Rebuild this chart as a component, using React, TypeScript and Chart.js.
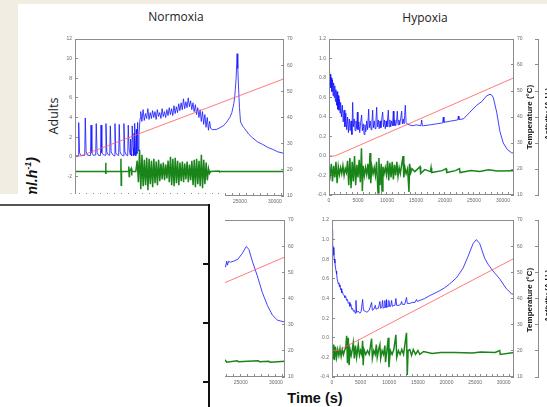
import React, { useEffect, useRef } from 'react';
import { Chart, registerables } from 'chart.js';

Chart.register(...registerables);
Chart.defaults.font.family = 'Liberation Sans';

type Pair = [number, number];

// labelled time ticks (s)
const timeTicks = [0, 5000, 10000, 15000, 20000, 25000, 30000];

// ---------------- Normoxia, adults (top-left) ----------------
const normAdultTemp: Pair[] = [[1400, 25.3], [2200, 25.3], [31300, 54.8]];
const normAdultVO2: Pair[] = [
  [1400, 0.05], [1850, 0.1], [1930, 3.48], [2050, 0.4], [2250, 0.12], [2790, 0.15], [2870, 3.95], [2990, 0.5],
  [3200, 0.15], [3610, 0.12], [3690, 3.22], [3810, 0.4], [4000, 0.15], [4360, 0.18], [4440, 3.38], [4560, 0.45],
  [4750, 0.15], [5040, 0.12], [5120, 3.22], [5240, 0.4], [5450, 0.2], [5750, 0.15], [5830, 3.38], [5950, 0.5],
  [6150, 0.2], [6370, 0.15], [6450, 3.15], [6570, 0.5], [6800, 0.2], [7040, 0.1], [7120, 3.38], [7240, 0.4],
  [7450, 0.2], [7650, 0.12], [7730, 3.3], [7850, 0.5], [8050, 0.2], [8320, 0.1], [8400, 3.38], [8520, 0.6],
  [8700, 0.2], [8940, 0.1], [9020, 3.22], [9140, 0.8], [9300, 0.2], [9350, 1.8], [9420, 0.3], [9510, 0.1],
  [9590, 3.15], [9700, 0.9], [9800, 0.1], [9850, 2.4], [9900, 0.2], [9970, 3.4], [10050, 0.5], [10100, 0.1],
  [10180, 2.8], [10250, 0.3], [10360, 3.5], [10450, 0.6], [10550, 2.2], [10700, 3.9],
  [10800, 4.6], [10970, 3.6], [11140, 4.8], [11310, 3.7], [11480, 4.4], [11650, 3.9], [11820, 4.9], [11990, 3.8],
  [12160, 4.5], [12330, 3.9], [12500, 4.7], [12670, 4.0], [12840, 4.6], [13010, 3.8], [13180, 4.8], [13350, 4.1],
  [13520, 4.5], [13690, 3.9], [13860, 4.9], [14030, 4.1], [14200, 4.6], [14370, 4.0], [14540, 4.8], [14710, 4.2],
  [14880, 5.0], [15050, 4.3], [15220, 4.9], [15390, 4.2], [15560, 5.2], [15730, 4.4], [15900, 5.1], [16070, 4.5],
  [16240, 5.4], [16410, 4.7], [16580, 5.5], [16750, 4.8], [16920, 5.9], [17090, 4.9], [17260, 5.6], [17430, 5.0],
  [17600, 6.0], [17770, 5.1], [17940, 5.7], [18110, 4.8], [18280, 5.5], [18450, 4.6], [18620, 5.3], [18790, 4.3],
  [18960, 5.0], [19130, 4.0], [19300, 4.8], [19470, 3.6], [19640, 4.6], [19810, 3.3], [19980, 4.3], [20150, 3.0],
  [20320, 4.0], [20490, 2.7], [20660, 3.6], [20800, 2.9],
  [21120, 2.75], [21690, 2.8], [22120, 2.95], [22690, 3.2], [23120, 3.55], [23550, 4.0], [23840, 4.5], [24120, 5.4],
  [24260, 6.2], [24450, 8.0], [24590, 10.5], [24690, 9.0], [24790, 7.2], [24930, 5.0], [25080, 3.55], [25410, 3.1],
  [25690, 2.85], [26260, 2.3], [26840, 1.9], [27550, 1.5], [28270, 1.25], [28980, 0.95], [29700, 0.75], [30410, 0.5],
  [31300, 0.35],
];
const normAdultAct: Pair[] = [
  [1400, -1.5], [5750, -1.5], [5790, -0.6], [5830, -1.75], [5870, -1.5], [7930, -1.5], [7970, -0.2], [8010, -2.9],
  [8050, -1.5], [9050, -1.5], [9100, -1.0], [9150, -2.0], [9200, -1.5], [9450, -1.2], [9500, -1.9], [9550, -1.5],
  [10100, -1.5], [10300, -0.4], [10470, -2.6], [10640, 0.7], [10810, -3.3], [10980, 0.2], [11150, -3.0], [11320, -0.3],
  [11490, -2.9], [11660, -0.1], [11830, -3.4], [12000, -0.2], [12170, -2.8], [12340, -0.4], [12510, -3.1], [12680, -0.2],
  [12850, -2.7], [13020, -0.5], [13190, -2.9], [13360, -0.3], [13530, -2.5], [13700, -0.7], [13870, -2.3], [14040, -0.6],
  [14210, -2.4], [14380, -0.8], [14550, -2.2], [14720, -0.4], [14890, -2.6], [15060, 0.0], [15230, -2.9], [15400, -0.2],
  [15570, -3.0], [15740, -0.1], [15910, -2.7], [16080, -0.4], [16250, -2.9], [16420, -0.6], [16590, -2.5], [16760, -0.5],
  [16930, -2.6], [17100, -0.7], [17270, -2.3], [17440, -0.5], [17610, -2.6], [17780, -0.8], [17950, -2.4], [18120, -0.4],
  [18290, -2.9], [18460, -0.3], [18630, -3.1], [18800, -0.2], [18970, -2.8], [19140, -0.4], [19310, -3.0], [19480, 0.2],
  [19650, -3.2], [19820, -0.3], [19990, -2.8], [20160, -0.6], [20330, -2.4], [20500, -1.2], [20650, -1.7], [20800, -1.5],
  [22000, -1.45], [22100, -1.55], [22200, -1.5], [26000, -1.5], [31300, -1.5],
];

// ---------------- Hypoxia, adults (top-right) ----------------
const hypoAdultTemp: Pair[] = [[0, 25], [1030, 25], [31900, 55.1]];
const hypoAdultVO2: Pair[] = [
  [0, 0.87], [100, 0.72], [200, 0.84], [300, 0.70], [400, 0.80], [500, 0.66], [600, 0.78], [700, 0.62],
  [800, 0.75], [900, 0.60], [1000, 0.72], [1100, 0.56], [1200, 0.68], [1300, 0.52], [1400, 0.66], [1500, 0.48],
  [1600, 0.62], [1700, 0.47], [1800, 0.58], [1900, 0.44], [2000, 0.55], [2150, 0.40], [2300, 0.52], [2450, 0.35],
  [2600, 0.47], [2750, 0.30], [2900, 0.44], [3050, 0.27], [3200, 0.40], [3350, 0.24], [3500, 0.38], [3650, 0.26],
  [3800, 0.36], [3950, 0.22], [4080, 0.55], [4200, 0.30], [4350, 0.38], [4500, 0.26], [4650, 0.36], [4800, 0.28],
  [4890, 0.45], [5000, 0.27], [5150, 0.35], [5300, 0.24], [5450, 0.34], [5630, 0.42], [5750, 0.26], [5900, 0.33],
  [6050, 0.22], [6200, 0.32], [6350, 0.25], [6500, 0.36], [6650, 0.27], [6840, 0.48], [6950, 0.29], [7100, 0.36],
  [7250, 0.27], [7400, 0.35], [7530, 0.47], [7650, 0.29], [7800, 0.36], [7950, 0.28], [8100, 0.37], [8220, 0.50],
  [8350, 0.30], [8500, 0.37], [8650, 0.28], [8800, 0.36], [8950, 0.29], [9100, 0.38], [9250, 0.45], [9400, 0.30],
  [9550, 0.37], [9700, 0.28], [9850, 0.36], [10000, 0.30], [10230, 0.47], [10350, 0.30], [10500, 0.37], [10650, 0.30],
  [10800, 0.36], [10950, 0.31], [11090, 0.46], [11200, 0.31], [11350, 0.37], [11500, 0.31], [11650, 0.36], [11780, 0.46],
  [11900, 0.32], [12050, 0.37], [12200, 0.32], [12350, 0.38], [12530, 0.46], [12650, 0.33], [12800, 0.38], [12950, 0.33],
  [13160, 0.52], [13300, 0.34], [13450, 0.33], [13800, 0.32], [14500, 0.31], [15000, 0.32], [15850, 0.31], [15980, 0.37],
  [16100, 0.31], [16260, 0.31], [17500, 0.32], [18560, 0.33], [19600, 0.34], [19710, 0.40], [19820, 0.345], [20860, 0.357],
  [22200, 0.37], [22300, 0.41], [22400, 0.375], [23160, 0.38], [24310, 0.45], [25460, 0.52], [26320, 0.557], [27180, 0.617],
  [27760, 0.633], [28050, 0.625], [28330, 0.60], [28910, 0.45], [29480, 0.25], [30050, 0.133], [30740, 0.067], [31490, 0.033],
  [31900, 0.03],
];
const hypoAdultAct: Pair[] = [
  [0, -0.12], [200, -0.20], [400, -0.08], [600, -0.26], [800, -0.10], [1000, -0.22], [1200, -0.06], [1400, -0.28],
  [1600, -0.11], [1800, -0.19], [2000, -0.12], [2200, -0.18], [2400, -0.10], [2600, -0.20], [2800, -0.13], [3000, -0.17],
  [3200, -0.05], [3400, -0.30], [3600, -0.02], [3800, -0.33], [4000, -0.06], [4200, -0.26], [4400, 0.00], [4600, -0.30],
  [4800, -0.09], [5000, -0.22], [5200, -0.04], [5400, -0.27], [5600, 0.08], [5750, -0.36], [5900, -0.10], [6100, -0.20],
  [6300, -0.12], [6500, -0.19], [6700, -0.08], [6900, -0.24], [7070, 0.03], [7200, -0.28], [7400, -0.11], [7600, -0.18],
  [7800, -0.12], [8000, -0.20], [8200, -0.06], [8450, -0.38], [8600, -0.02], [8800, -0.30], [9000, -0.08], [9140, -0.36],
  [9300, -0.11], [9500, -0.18], [9700, -0.12], [9900, -0.19], [10100, -0.05], [10300, -0.25], [10500, -0.07], [10700, -0.22],
  [10900, -0.06], [11100, -0.24], [11300, -0.09], [11500, -0.20], [11700, -0.06], [11900, -0.21], [12100, -0.12], [12300, -0.18],
  [12500, -0.10], [12760, 0.00], [12900, -0.22], [13100, -0.12], [13300, -0.18], [13550, -0.13], [13790, -0.37], [13900, -0.08],
  [14100, -0.17], [14300, -0.13], [14800, -0.16], [15700, -0.11], [15800, -0.18], [16500, -0.14], [17500, -0.16], [17600, -0.12],
  [17700, -0.17], [19500, -0.15], [20200, -0.13], [20300, -0.17], [21800, -0.15], [22500, -0.13], [22600, -0.17], [24500, -0.15],
  [26000, -0.16], [27500, -0.14], [29000, -0.155], [31900, -0.15],
];

// ---------------- Hypoxia, lower panel (bottom-right) ----------------
const hypoLowTemp: Pair[] = [[0, 20.1], [1100, 20.1], [31800, 55.3]];
const hypoLowVO2: Pair[] = [
  [0, 1.10], [60, 1.05], [150, 0.95], [230, 0.92], [330, 0.84], [420, 0.80], [520, 0.76], [620, 0.71],
  [710, 0.68], [810, 0.65], [900, 0.60], [1000, 0.60], [1100, 0.55], [1200, 0.56], [1300, 0.52], [1395, 0.54],
  [1500, 0.49], [1600, 0.50], [1700, 0.46], [1800, 0.47], [1975, 0.44], [2100, 0.43], [2250, 0.41], [2400, 0.42],
  [2560, 0.38], [2700, 0.39], [2850, 0.35], [3000, 0.36], [3140, 0.32], [3300, 0.34], [3450, 0.29], [3600, 0.30],
  [3720, 0.27], [3900, 0.28], [4050, 0.25], [4190, 0.38], [4300, 0.26], [4600, 0.27], [4880, 0.25], [5100, 0.27],
  [5350, 0.39], [5500, 0.28], [5800, 0.27], [6100, 0.26], [6500, 0.28], [6920, 0.36], [7050, 0.28], [7300, 0.29],
  [7560, 0.33], [7700, 0.29], [7900, 0.30], [8100, 0.30], [8370, 0.37], [8500, 0.30], [8700, 0.31], [8840, 0.38],
  [8950, 0.30], [9100, 0.31], [9240, 0.38], [9350, 0.31], [9450, 0.31], [9530, 0.39], [9650, 0.31], [9800, 0.32],
  [9940, 0.38], [10050, 0.32], [10250, 0.32], [10410, 0.38], [10550, 0.32], [10800, 0.33], [11000, 0.33], [11160, 0.40],
  [11300, 0.33], [11700, 0.33], [12000, 0.34], [12150, 0.37], [12300, 0.34], [12700, 0.34], [13020, 0.41], [13150, 0.35],
  [13600, 0.35], [14000, 0.36], [14500, 0.36], [14760, 0.39], [14900, 0.37], [15350, 0.38], [16200, 0.40], [17090, 0.43],
  [18000, 0.455], [18840, 0.48], [19700, 0.51], [20580, 0.55], [21740, 0.61], [22900, 0.71], [23780, 0.83], [24650, 0.96],
  [25230, 1.00], [25810, 0.96], [26680, 0.81], [27260, 0.75], [28130, 0.68], [29300, 0.60], [30460, 0.50], [31330, 0.45],
  [31800, 0.44],
];
const hypoLowAct: Pair[] = [
  [0, -0.10], [150, -0.22], [300, -0.07], [450, -0.23], [600, -0.09], [800, -0.20], [1000, -0.12], [1200, -0.18],
  [1400, -0.11], [1600, -0.19], [1800, -0.12], [2000, -0.17], [2200, -0.13], [2400, -0.10], [2560, 0.02], [2700, -0.26],
  [2850, 0.00], [3000, -0.28], [3150, -0.12], [3350, -0.18], [3550, -0.12], [3720, -0.05], [3900, -0.21], [4100, -0.08],
  [4300, -0.20], [4590, -0.07], [4800, -0.18], [5000, -0.13], [5200, -0.17], [5350, -0.03], [5450, -0.28], [5600, -0.12],
  [5900, -0.17], [6200, -0.13], [6500, -0.17], [6920, -0.01], [7050, -0.21], [7300, -0.13], [7550, -0.17], [7750, -0.07],
  [7900, -0.20], [8150, -0.12], [8370, -0.07], [8500, -0.21], [8750, -0.13], [9000, -0.17], [9240, -0.08], [9350, -0.25],
  [9600, -0.13], [9820, 0.00], [9950, -0.30], [10200, -0.13], [10500, -0.17], [10800, -0.12], [11160, 0.03], [11300, -0.20],
  [11600, -0.13], [11900, -0.17], [12200, -0.12], [12500, -0.17], [13020, 0.05], [13150, -0.38], [13300, -0.13], [13600, -0.12],
  [13900, -0.18], [14200, -0.12], [14600, -0.17], [15000, -0.13], [15350, -0.17], [16000, -0.14], [17500, -0.16], [19000, -0.15],
  [21500, -0.15], [24500, -0.155], [26000, -0.145], [28500, -0.15], [29300, -0.13], [29400, -0.17], [31800, -0.15],
];

// ---------------- Normoxia, lower panel (bottom-left, mostly covered) ----------------
const normLowTemp: Pair[] = [[1400, 22.4], [2200, 22.4], [31300, 55.9]];
const normLowVO2: Pair[] = [
  [19500, 0.66], [20500, 0.70], [21500, 0.74], [22300, 0.76], [22830, 0.72], [23000, 0.78], [23100, 0.74], [23260, 0.78],
  [23500, 0.77], [23970, 0.78], [24590, 0.80], [25220, 0.86], [25790, 0.93], [26160, 0.90], [26650, 0.78], [27360, 0.63],
  [28080, 0.46], [28790, 0.33], [29510, 0.23], [30220, 0.18], [30700, 0.17], [31300, 0.16],
];
const normLowAct: Pair[] = [
  [1400, -0.24], [20000, -0.24], [22800, -0.23], [23000, -0.25], [24500, -0.235], [24700, -0.245], [26000, -0.24],
  [27500, -0.235], [27700, -0.245], [29000, -0.24], [29200, -0.25], [31300, -0.24],
];

const LEFT_W = 16;
const BOTTOM_H = 12;
const TOP_PAD = 5;
const ACT_W = 12;
const MINOR_STEP = 1000;
const AXIS_COLOR = '#8c8c8c';
const TICK_COLOR = '#6a6a6a';

const framePlugin = {
  id: 'frame',
  afterDatasetsDraw(chart: any) {
    const { ctx, chartArea: a } = chart;
    ctx.save();
    ctx.strokeStyle = AXIS_COLOR;
    ctx.lineWidth = 1;
    ctx.strokeRect(Math.round(a.left) + 0.5, Math.round(a.top) + 0.5, Math.round(a.right - a.left) - 1, Math.round(a.bottom - a.top) - 1);
    ctx.restore();
  },
};

interface PanelProps {
  left: number; top: number; plotW: number; plotH: number; y2W: number; activity: boolean;
  xMin: number; xMax: number; yMin: number; yMax: number; yStep: number; yDec: number;
  temp: Pair[]; vo2: Pair[]; act: Pair[];
}

function Panel(p: PanelProps) {
  const ref = useRef<HTMLCanvasElement>(null);
  const width = LEFT_W + p.plotW + p.y2W + (p.activity ? ACT_W : 0);
  const height = TOP_PAD + p.plotH + BOTTOM_H;
  useEffect(() => {
    const toXY = (a: Pair[]) => a.map(([x, y]) => ({ x, y }));
    const tickFont = { family: 'Liberation Sans', size: 5 };
    const grid = { drawOnChartArea: false, color: AXIS_COLOR, tickLength: -3 };
    const scales: any = {
      x: {
        type: 'linear', position: 'bottom', min: p.xMin, max: p.xMax,
        afterFit: (s: any) => { s.height = BOTTOM_H; },
        afterBuildTicks: (s: any) => {
          const ticks: { value: number }[] = [];
          for (let v = 0; v <= s.max; v += MINOR_STEP) if (v >= s.min) ticks.push({ value: v });
          s.ticks = ticks;
        },
        border: { display: false }, grid,
        ticks: {
          autoSkip: false, maxRotation: 0, minRotation: 0, padding: 6,
          font: tickFont, color: TICK_COLOR,
          callback: (v: any) => (timeTicks.includes(Math.round(Number(v))) ? String(Math.round(Number(v))) : ''),
        },
      },
      y: {
        position: 'left', min: p.yMin, max: p.yMax,
        afterFit: (s: any) => { s.width = LEFT_W; },
        border: { display: false }, grid,
        ticks: {
          stepSize: p.yStep, autoSkip: false, padding: 6, font: tickFont, color: TICK_COLOR,
          callback: (v: any) => (Math.abs(v) < 1e-9 ? (0).toFixed(p.yDec) : Number(v).toFixed(p.yDec)),
        },
      },
      y2: {
        position: 'right', min: 10, max: 70,
        afterFit: (s: any) => { s.width = p.y2W; },
        border: { display: false }, grid,
        ticks: { stepSize: 10, autoSkip: false, padding: 6, font: tickFont, color: TICK_COLOR },
      },
    };
    if (p.activity) {
      scales.y3 = {
        position: 'right', min: 0, max: 6,
        afterFit: (s: any) => { s.width = ACT_W; },
        border: { display: true, color: AXIS_COLOR },
        grid: { drawOnChartArea: false, color: AXIS_COLOR, tickLength: -3 },
        ticks: { display: false, stepSize: 1 },
      };
    }
    const chart = new Chart(ref.current as HTMLCanvasElement, {
      type: 'line',
      data: {
        datasets: [
          { data: toXY(p.temp), yAxisID: 'y2', borderColor: 'rgba(255,90,90,0.8)', borderWidth: 1 },
          { data: toXY(p.vo2), yAxisID: 'y', borderColor: 'rgba(20,20,255,0.8)', borderWidth: 1 },
          { data: toXY(p.act), yAxisID: 'y', borderColor: 'rgba(0,120,0,0.9)', borderWidth: 1.5 },
        ] as any,
      },
      options: {
        responsive: false,
        animation: false,
        devicePixelRatio: 1,
        parsing: false as any,
        normalized: true,
        layout: { padding: { top: TOP_PAD, left: 0, right: 0, bottom: 0 } },
        elements: { point: { radius: 0 }, line: { tension: 0 } },
        plugins: { legend: { display: false }, tooltip: { enabled: false } },
        events: [],
        scales,
      } as any,
      plugins: [framePlugin],
    });
    return () => chart.destroy();
  }, []);
  return (
    <canvas
      ref={ref}
      width={width}
      height={height}
      style={{ position: 'absolute', left: p.left - LEFT_W, top: p.top - TOP_PAD, width, height }}
    />
  );
}

function VText({ x, y, children, style }: { x: number; y: number; children: any; style?: any }) {
  return (
    <div
      style={{
        position: 'absolute', left: x, top: y, whiteSpace: 'nowrap',
        transform: 'translate(-50%, -50%) rotate(-90deg)', ...style,
      }}
    >
      {children}
    </div>
  );
}

function HText({ x, y, children, style }: { x: number; y: number; children: any; style?: any }) {
  return (
    <div style={{ position: 'absolute', left: x, top: y, whiteSpace: 'nowrap', transform: 'translate(-50%, -50%)', ...style }}>
      {children}
    </div>
  );
}

export default function App() {
  const title = { fontFamily: "'Open Sans', sans-serif", fontSize: 12, color: '#222', lineHeight: '16px' };
  const axTitle = { fontFamily: "'Liberation Sans', Arial, sans-serif", fontSize: 8, fontWeight: 'bold', color: '#111', lineHeight: '10px' };
  return (
    <div style={{ position: 'absolute', left: 0, top: 0, width: 547, height: 407, overflow: 'hidden', background: '#f1ede3' }}>
      <div style={{ position: 'absolute', left: 18, top: 4, width: 529, height: 403, background: '#fff' }} />

      <HText x={176} y={17} style={title}>Normoxia</HText>
      <HText x={425} y={17.5} style={title}>Hypoxia</HText>
      <VText x={53.5} y={116} style={{ ...title, fontSize: 12.5 }}>Adults</VText>
      <VText x={33} y={257} style={{ width: 200, textAlign: 'right', fontFamily: "'Liberation Sans', Arial, sans-serif", fontSize: 14, fontWeight: 'bold', fontStyle: 'italic', color: '#111', lineHeight: '16px' }}>
        VO<sub style={{ fontSize: 9 }}>2</sub> (ml.h<sup style={{ fontSize: 9 }}>-1</sup>)
      </VText>

      <Panel left={75} top={35} plotW={209} plotH={161} y2W={18} activity={false}
        xMin={1400} xMax={31300} yMin={-4} yMax={12} yStep={2} yDec={0}
        temp={normAdultTemp} vo2={normAdultVO2} act={normAdultAct} />
      <Panel left={329} top={35} plotW={185} plotH={160} y2W={24} activity={true}
        xMin={0} xMax={31900} yMin={-0.4} yMax={1.2} yStep={0.2} yDec={1}
        temp={hypoAdultTemp} vo2={hypoAdultVO2} act={hypoAdultAct} />
      <Panel left={75} top={216} plotW={210} plotH={161} y2W={18} activity={false}
        xMin={1400} xMax={31300} yMin={-0.4} yMax={1.2} yStep={0.2} yDec={1}
        temp={normLowTemp} vo2={normLowVO2} act={normLowAct} />
      <Panel left={332} top={216} plotW={182} plotH={161} y2W={24} activity={true}
        xMin={0} xMax={31800} yMin={-0.4} yMax={1.2} yStep={0.2} yDec={1}
        temp={hypoLowTemp} vo2={hypoLowVO2} act={hypoLowAct} />

      <VText x={530} y={117} style={axTitle}>Temperature (°C)</VText>
      <VText x={530} y={300} style={axTitle}>Temperature (°C)</VText>
      <VText x={548} y={114} style={axTitle}>Activity (A.U.)</VText>
      <VText x={548} y={296} style={axTitle}>Activity (A.U.)</VText>

      <HText x={315} y={398} style={{ fontFamily: "'Liberation Sans', Arial, sans-serif", fontSize: 14.5, fontWeight: 'bold', color: '#111' }}>Time (s)</HText>

      {/* overlapping white box from the slide */}
      <div style={{ position: 'absolute', left: 0, top: 194, width: 225, height: 213, background: '#fff' }} />
      <div style={{ position: 'absolute', left: 0, top: 204, width: 210, height: 1.5, background: '#555' }} />
      <div style={{ position: 'absolute', left: 208, top: 204, width: 2, height: 203, background: '#111' }} />
      <div style={{ position: 'absolute', left: 203, top: 263, width: 6, height: 2, background: '#111' }} />
      <div style={{ position: 'absolute', left: 203, top: 322, width: 6, height: 2, background: '#111' }} />
      <div style={{ position: 'absolute', left: 203, top: 381, width: 6, height: 2, background: '#111' }} />
    </div>
  );
}
